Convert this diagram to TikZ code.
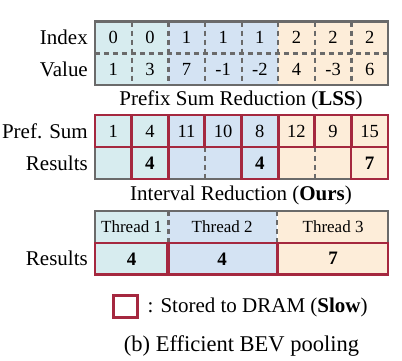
\documentclass[tikz,border=0pt]{standalone}
\usepackage{fontspec}
\setmainfont{Liberation Serif}
\definecolor{cteal}{HTML}{D7ECEF}
\definecolor{cblue}{HTML}{D4E3F3}
\definecolor{corange}{HTML}{FDEDD9}
\definecolor{cred}{HTML}{A5283F}
\definecolor{cgray}{HTML}{6A6A6A}
\begin{document}
\begin{tikzpicture}[x=1pt,y=-1pt,
  cell/.style={inner sep=0pt, minimum width=36.625pt, minimum height=31.5pt, font=\rmfamily\fontsize{18.5}{19}\selectfont},
  bcell/.style={cell, font=\rmfamily\bfseries\fontsize{19}{19}\selectfont},
  lab/.style={anchor=east, inner sep=0pt, font=\rmfamily\fontsize{21}{21}\selectfont},
  ttl/.style={inner sep=0pt, font=\rmfamily\fontsize{21}{21}\selectfont},
  gbox/.style={draw=cgray, line width=2.3pt},
  rbox/.style={draw=cred, line width=2.5pt},
  gdash/.style={draw=cgray, line width=2.2pt, dash pattern=on 5pt off 4pt}]
\useasboundingbox (0,0) rectangle (402,361);
% ---------- top table ----------
\foreach \i/\a/\b/\c in {1/0/1/cteal,2/0/3/cteal,3/1/7/cblue,4/1/-1/cblue,5/1/-2/cblue,6/2/4/corange,7/2/-3/corange,8/2/6/corange}{
  \node[cell, fill=\c] (idx\i) at ({95+36.625*(\i-0.5)},37.5) {\a};
  \node[cell, fill=\c, minimum height=32pt] (val\i) at ({95+36.625*(\i-0.5)},69) {\b};
}
\foreach \i in {1,...,7}{
  \draw[gdash] (idx\i.north east) -- (val\i.south east);
}
\draw[gdash] (idx1.south west) -- (idx8.south east);
\draw[gbox] (idx1.north west) rectangle (val8.south east);
\node[lab] (lidx) at (88,37.5) {Index};
\node[lab] (lval) at (88,69) {Value};
% ---------- prefix sum ----------
\node[ttl] (t1) at (241,100) {Prefix Sum Reduction (\textbf{LSS})};
\foreach \i/\a/\c in {1/1/cteal,2/4/cteal,3/11/cblue,4/10/cblue,5/8/cblue,6/12/corange,7/9/corange,8/15/corange}{
  \node[cell, fill=\c, minimum height=32pt] (ps\i) at ({95+36.625*(\i-0.5)},131) {\a};
}
\foreach \i/\a/\c in {1//cteal,2/4/cteal,3//cblue,4//cblue,5/4/cblue,6//corange,7//corange,8/7/corange}{
  \node[bcell, fill=\c, minimum height=32pt] (rs\i) at ({95+36.625*(\i-0.5)},163) {\a};
}
\draw[gdash] (rs3.north east) -- (rs3.south east);
\draw[gdash] (rs6.north east) -- (rs6.south east);
\draw[gbox] (ps1.north west) rectangle (rs8.south east);
\foreach \i in {1,...,8}{
  \draw[rbox] (ps\i.north west) rectangle (ps\i.south east);
}
\foreach \i in {2,5,8}{
  \draw[rbox] (rs\i.north west) rectangle (rs\i.south east);
}
\node[lab] (lps) at (88,131) {Pref. Sum};
\node[lab] (lrs) at (88,163) {Results};
% ---------- interval reduction ----------
\node[ttl] (t2) at (241,195) {Interval Reduction (\textbf{Ours})};
\node[cell, fill=cteal, minimum width=73.25pt, minimum height=32pt, font=\rmfamily\fontsize{17}{17}\selectfont] (th1) at (131.625,227) {Thread 1};
\node[cell, fill=cblue, minimum width=109.875pt, minimum height=32pt, font=\rmfamily\fontsize{17}{17}\selectfont] (th2) at (222.1875,227) {Thread 2};
\node[cell, fill=corange, minimum width=109.875pt, minimum height=32pt, font=\rmfamily\fontsize{17}{17}\selectfont] (th3) at (333.0625,227) {Thread 3};
\node[bcell, fill=cteal, minimum width=73.25pt] (ir1) at (131.625,258.75) {4};
\node[bcell, fill=cblue, minimum width=109.875pt] (ir2) at (222.1875,258.75) {4};
\node[bcell, fill=corange, minimum width=109.875pt] (ir3) at (333.0625,258.75) {7};
\draw[gdash] (th1.north east) -- (th1.south east);
\draw[gdash] (th2.north east) -- (th2.south east);
\draw[gbox] (th1.north west) rectangle (th3.south east);
\foreach \i in {1,2,3}{
  \draw[rbox] (ir\i.north west) rectangle (ir\i.south east);
}
\node[lab] (lir) at (88,258.75) {Results};
% ---------- legend ----------
\node[rbox, inner sep=0pt, minimum width=24pt, minimum height=22pt] (leg) at (125.5,306.5) {};
\node[anchor=west, inner sep=0pt, font=\rmfamily\fontsize{21}{21}\selectfont] (legt) at (147.5,307) {: Stored to DRAM (\textbf{Slow})};
\node[inner sep=0pt, font=\rmfamily\fontsize{22.5}{23}\selectfont] (cap) at (241.5,346) {(b) Efficient BEV pooling};
\end{tikzpicture}
\end{document}
